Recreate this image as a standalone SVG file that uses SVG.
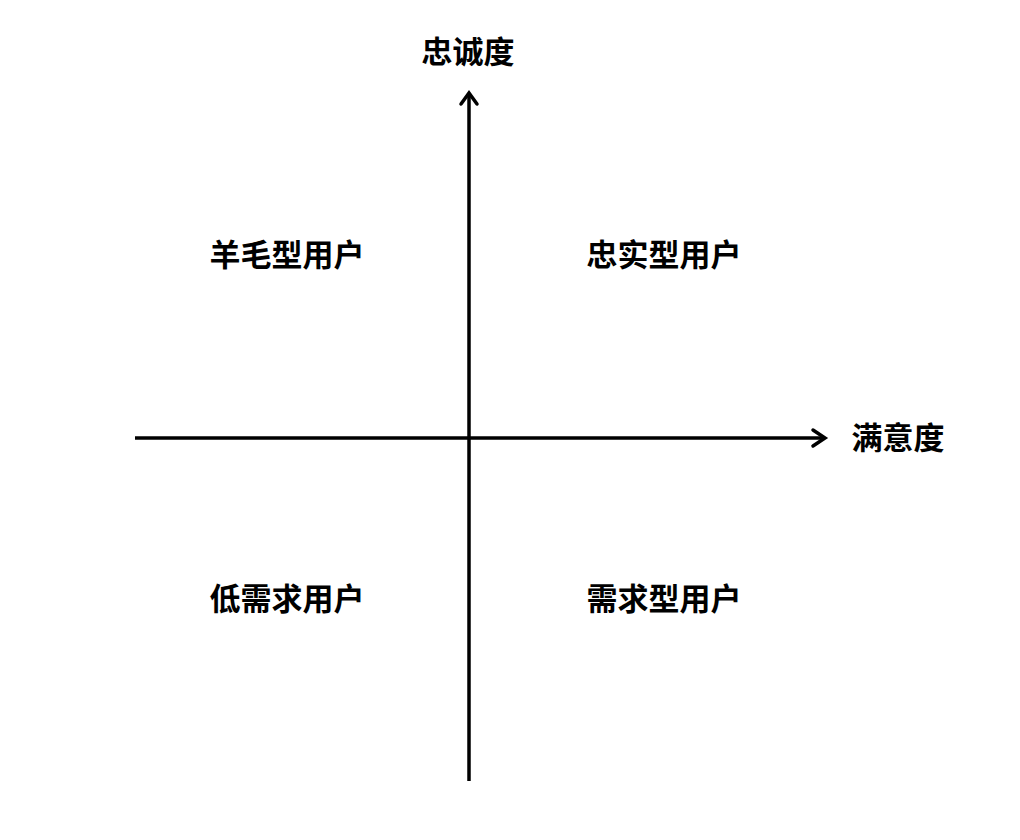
<svg xmlns="http://www.w3.org/2000/svg" width="1020" height="840" viewBox="0 0 1020 840">
<style>
.lbl{font-family:"Liberation Sans","Noto Sans CJK SC",sans-serif;font-weight:bold;fill:#000;text-anchor:middle;dominant-baseline:central}
.q{font-size:31px}
.ax{font-size:31px}
.line{stroke:#000;stroke-width:3.5;fill:none}
.head{stroke:#000;stroke-width:3.5;fill:none;stroke-linecap:round;stroke-linejoin:miter}
</style>
<rect width="1020" height="840" fill="#fff"/>
<g id="connectors">
<line class="line" x1="469" y1="781" x2="469" y2="94"/>
<polyline class="head" points="461,104 469,93 477,104"/>
<line class="line" x1="135" y1="438" x2="824" y2="438"/>
<polyline class="head" points="813,430 825,438 813,446"/>
</g>
<g id="axis-y"><text class="lbl ax" x="468" y="52">忠诚度</text></g>
<g id="axis-x"><text class="lbl ax" x="898" y="438">满意度</text></g>
<g id="q-tl"><text class="lbl q" x="287" y="255">羊毛型用户</text></g>
<g id="q-tr"><text class="lbl q" x="664" y="255">忠实型用户</text></g>
<g id="q-bl"><text class="lbl q" x="287" y="599">低需求用户</text></g>
<g id="q-br"><text class="lbl q" x="664" y="599">需求型用户</text></g>
</svg>
